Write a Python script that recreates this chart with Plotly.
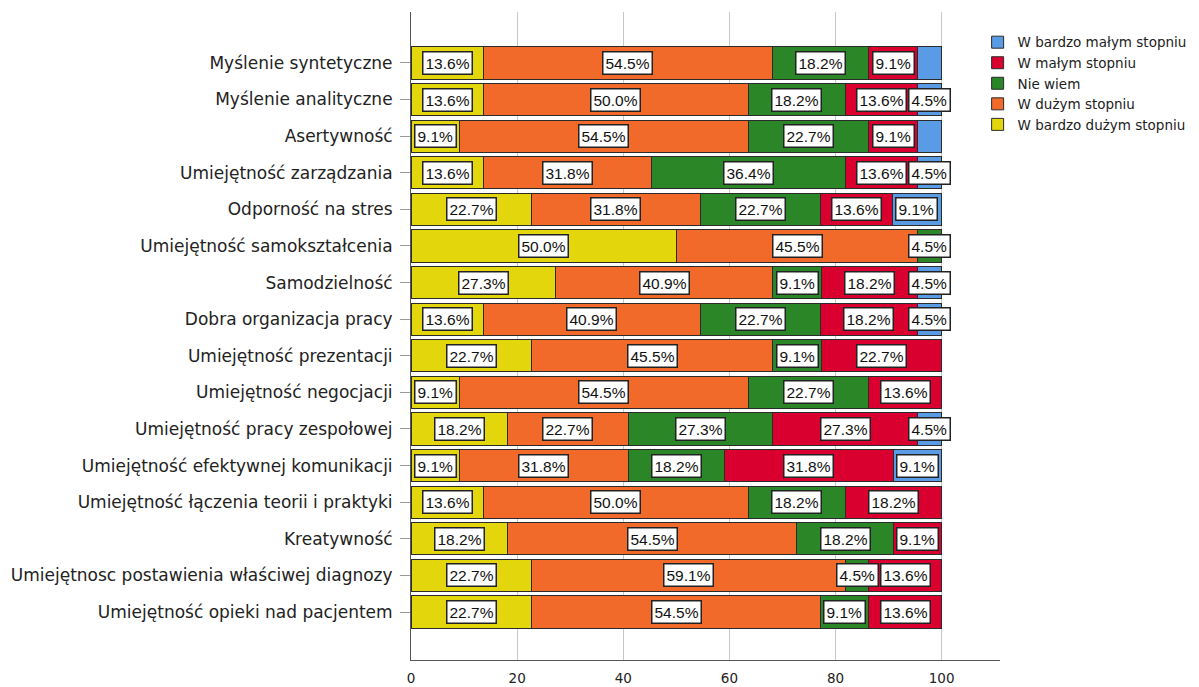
import plotly.graph_objects as go

categories = [
    "Myślenie syntetyczne",
    "Myślenie analityczne",
    "Asertywność",
    "Umiejętność zarządzania",
    "Odporność na stres",
    "Umiejętność samokształcenia",
    "Samodzielność",
    "Dobra organizacja pracy",
    "Umiejętność prezentacji",
    "Umiejętność negocjacji",
    "Umiejętność pracy zespołowej",
    "Umiejętność efektywnej komunikacji",
    "Umiejętność łączenia teorii i praktyki",
    "Kreatywność",
    "Umiejętnosc postawienia właściwej diagnozy",
    "Umiejętność opieki nad pacjentem",
]

w_bardzo_duzym = [13.6, 13.6, 9.1, 13.6, 22.7, 50.0, 27.3, 13.6, 22.7, 9.1, 18.2, 9.1, 13.6, 18.2, 22.7, 22.7]
w_duzym = [54.5, 50.0, 54.5, 31.8, 31.8, 45.5, 40.9, 40.9, 45.5, 54.5, 22.7, 31.8, 50.0, 54.5, 59.1, 54.5]
nie_wiem = [18.2, 18.2, 22.7, 36.4, 22.7, 4.5, 9.1, 22.7, 9.1, 22.7, 27.3, 18.2, 18.2, 18.2, 4.5, 9.1]
w_malym = [9.1, 13.6, 9.1, 13.6, 13.6, 0, 18.2, 18.2, 22.7, 13.6, 27.3, 31.8, 18.2, 9.1, 13.6, 13.6]
w_bardzo_malym = [4.5, 4.5, 4.5, 4.5, 9.1, 0, 4.5, 4.5, 0, 0, 4.5, 9.1, 0, 0, 0, 0]

series_names = ["W bardzo dużym stopniu", "W dużym stopniu", "Nie wiem", "W małym stopniu", "W bardzo małym stopniu"]
series_values = [w_bardzo_duzym, w_duzym, nie_wiem, w_malym, w_bardzo_malym]
series_colors = ["#E3D60C", "#F26A2A", "#2A8626", "#D9002F", "#5A9BE6"]

# labels not drawn in the original (row index, series index)
hidden_labels = [(0, 4), (2, 4)]

font_family = "DejaVu Sans, Verdana, sans-serif"
label_family = "Liberation Sans, Arial, sans-serif"

fig = go.Figure()
for name, vals, col in zip(series_names, series_values, series_colors):
    fig.add_trace(go.Bar(
        y=categories, x=vals, name=name, orientation="h",
        marker=dict(color=col, line=dict(color="#2b2b2b", width=1)),
        width=0.88,
    ))

annotations = []
for i, cat in enumerate(categories):
    cum = 0.0
    for s, vals in enumerate(series_values):
        v = vals[i]
        if v > 0 and (i, s) not in hidden_labels:
            annotations.append(dict(
                x=cum + v / 2, y=cat, xref="x", yref="y",
                text=f"{v:.1f}%", showarrow=False,
                font=dict(family=label_family, size=15.5, color="#111"),
                bgcolor="white", bordercolor="#222", borderwidth=1.5, borderpad=2,
            ))
        cum += v

fig.update_layout(
    barmode="stack",
    width=1199, height=687,
    margin=dict(l=403, r=207, t=4, b=35, autoexpand=False),
    plot_bgcolor="white", paper_bgcolor="white",
    font=dict(family=font_family, color="#222"),
    annotations=annotations,
    legend=dict(
        traceorder="reversed", x=0.962, y=0.977, xanchor="left", yanchor="top",
        font=dict(family=font_family, size=13.5, color="#222"),
        itemwidth=30, tracegroupgap=0, bgcolor="rgba(0,0,0,0)",
    ),
    showlegend=True,
)
fig.update_xaxes(
    range=[0, 111], tickvals=[0, 20, 40, 60, 80, 100],
    showgrid=True, gridcolor="#c8c8c8", gridwidth=1,
    showline=True, linecolor="#555", linewidth=1,
    zeroline=False, ticks="", ticklabelstandoff=6,
    tickfont=dict(size=13.5, color="#222"),
)
fig.update_yaxes(
    categoryorder="array", categoryarray=categories,
    range=[16.31, -1.39],
    showline=True, linecolor="#555", linewidth=1,
    ticks="outside", ticklen=10, tickcolor="#999", ticklabelstandoff=4,
    tickfont=dict(size=17, color="#222"), showgrid=False,
)

fig.write_html("out.html")
